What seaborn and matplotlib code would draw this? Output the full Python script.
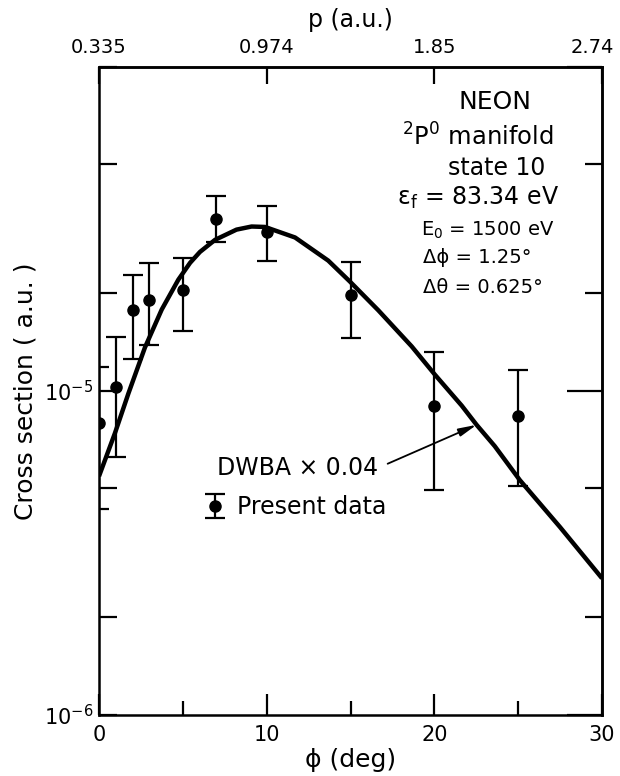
import matplotlib
matplotlib.use("Agg")
import matplotlib.pyplot as plt
import matplotlib.transforms as mtransforms
from matplotlib.ticker import FixedLocator, NullFormatter
import seaborn as sns
import pandas as pd

# ---- data ----
phi_data = [0, 1, 2, 3, 5, 7, 10, 15, 20, 25]
cs_data = [7.96e-6, 1.03e-5, 1.78e-5, 1.91e-5, 2.05e-5, 3.39e-5, 3.08e-5, 1.98e-5, 9.0e-6, 8.33e-6]
cs_upper = [1.18e-5, 1.46e-5, 2.27e-5, 2.48e-5, 2.57e-5, 4.0e-5, 3.71e-5, 2.49e-5, 1.32e-5, 1.16e-5]
cs_lower = [4.32e-6, 6.24e-6, 1.25e-5, 1.38e-5, 1.53e-5, 2.88e-5, 2.52e-5, 1.45e-5, 4.94e-6, 5.1e-6]

phi_curve = [0, 0.95, 1.75, 2.74, 3.74, 4.73, 5.43, 6.02, 6.92, 8.2, 9.1, 9.9,
             11.69, 13.67, 14.97, 16.66, 18.65, 20.04, 21.63, 22.52, 23.6, 25.1,
             27.49, 30]
cs_curve = [5.45e-6, 7.4e-6, 9.8e-6, 1.36e-5, 1.78e-5, 2.2e-5, 2.48e-5, 2.68e-5,
            2.92e-5, 3.14e-5, 3.21e-5, 3.2e-5, 2.97e-5, 2.52e-5, 2.17e-5, 1.77e-5,
            1.37e-5, 1.12e-5, 9.0e-6, 7.85e-6, 6.75e-6, 5.3e-6, 3.8e-6, 2.64e-6]

x_major = [0, 10, 20, 30]
x_minor = [5, 15, 25]
x_labels = ["0", "10", "20", "30"]
p_labels = ["0.335", "0.974", "1.85", "2.74"]
y_major = [1e-6, 1e-5, 1e-4]
y_major_labels = [r"$10^{-6}$", r"$10^{-5}$", ""]
y_minor = [2e-6, 5e-6, 2e-5, 5e-5]

arrow_tip = (22.52, 7.85e-6)
arrow_text = (16.64, 5.78e-6)

# ---- style ----
sns.set_theme(style="ticks")
plt.rcParams["font.family"] = ["DejaVu Sans"]
plt.rcParams["mathtext.fontset"] = "dejavusans"
plt.rcParams["axes.linewidth"] = 1.8
for key in ["text.color", "axes.labelcolor", "xtick.color", "ytick.color",
            "axes.edgecolor"]:
    plt.rcParams[key] = "black"

fig = plt.figure(figsize=(6.2, 7.76), dpi=100)
ax = fig.add_axes([0.1597, 0.0786, 0.8113, 0.8357])

curve_df = pd.DataFrame({"phi": phi_curve, "cs": cs_curve})
sns.lineplot(data=curve_df, x="phi", y="cs", ax=ax, color="black", lw=3.2,
             estimator=None, sort=False, solid_joinstyle="round",
             solid_capstyle="butt")

yerr = [[c - l for c, l in zip(cs_data, cs_lower)],
        [u - c for c, u in zip(cs_data, cs_upper)]]
eb = ax.errorbar(phi_data, cs_data, yerr=yerr, fmt="o", color="black", ms=8,
                 capsize=7, elinewidth=1.6, capthick=1.6, zorder=3)

ax.set_yscale("log")
ax.set_xlim(0, 30)
ax.set_ylim(1e-6, 1e-4)

# x ticks
ax.xaxis.set_major_locator(FixedLocator(x_major))
ax.set_xticklabels(x_labels)
ax.xaxis.set_minor_locator(FixedLocator(x_minor))
ax.xaxis.set_minor_formatter(NullFormatter())
# y ticks
ax.yaxis.set_major_locator(FixedLocator(y_major))
ax.set_yticklabels(y_major_labels)
ax.yaxis.set_minor_locator(FixedLocator(y_minor))
ax.yaxis.set_minor_formatter(NullFormatter())

ax.tick_params(axis="x", which="major", direction="in", length=15, width=1.6,
               labelsize=15, pad=7, top=False)
ax.tick_params(axis="x", which="minor", direction="in", length=10, width=1.6,
               top=False)
ax.tick_params(axis="y", which="both", direction="in", length=13, width=1.6,
               labelsize=15, pad=4, right=False)

for s in ax.spines.values():
    s.set_linewidth(1.8)
    s.set_color("black")

# top axis (momentum transfer)
top = ax.secondary_xaxis("top")
top.xaxis.set_major_locator(FixedLocator(x_major))
top.set_xticklabels(p_labels)
top.tick_params(axis="x", direction="in", length=12, width=1.6, labelsize=14, pad=7)
top.set_xlabel("p (a.u.)", fontsize=17, labelpad=8)
last = top.get_xticklabels()[-1]
last.set_transform(last.get_transform() +
                   mtransforms.ScaledTranslation(-7 / 72, 0, fig.dpi_scale_trans))

# right axis ticks
right = ax.secondary_yaxis("right")
right.yaxis.set_major_locator(FixedLocator(y_major))
right.yaxis.set_minor_locator(FixedLocator(y_minor))
right.yaxis.set_major_formatter(NullFormatter())
right.yaxis.set_minor_formatter(NullFormatter())
right.tick_params(axis="y", which="major", direction="in", length=25, width=1.6)
right.tick_params(axis="y", which="minor", direction="in", length=12, width=1.6)

ax.set_xlabel("ϕ (deg)", fontsize=18, labelpad=2)
ax.set_ylabel("Cross section ( a.u. )", fontsize=18, labelpad=5)

# annotation
ax.annotate("DWBA × 0.04", xy=arrow_tip, xytext=arrow_text, fontsize=17,
            ha="right", va="center",
            arrowprops=dict(arrowstyle="-|>,head_length=0.9,head_width=0.2",
                            lw=1.3, color="black", shrinkA=5, shrinkB=0,
                            relpos=(1.0, 0.5), mutation_scale=12))

leg = ax.legend(handles=[eb], labels=["Present data"], loc="center left",
                bbox_to_anchor=(0.165, 0.32), frameon=False, fontsize=17,
                handlelength=1.0, handletextpad=0.45, labelcolor="black")

# info text block
info = [
    ("NEON", 0.787, 0.9445, 18),
    (r"$^{2}$P$^{0}$ manifold", 0.753, 0.8906, 17.5),
    ("state 10", 0.791, 0.843, 17),
    (r"ε$_{\mathregular{f}}$ = 83.34 eV", 0.753, 0.798, 17),
    (r"E$_{0}$ = 1500 eV", 0.773, 0.747, 14),
    ("Δϕ = 1.25°", 0.751, 0.706, 14),
    ("Δθ = 0.625°", 0.763, 0.659, 14),
]
for txt, x, y, fs in info:
    ax.text(x, y, txt, transform=ax.transAxes, ha="center", va="center",
            fontsize=fs, color="black")

fig.savefig("out.png", dpi=100)
